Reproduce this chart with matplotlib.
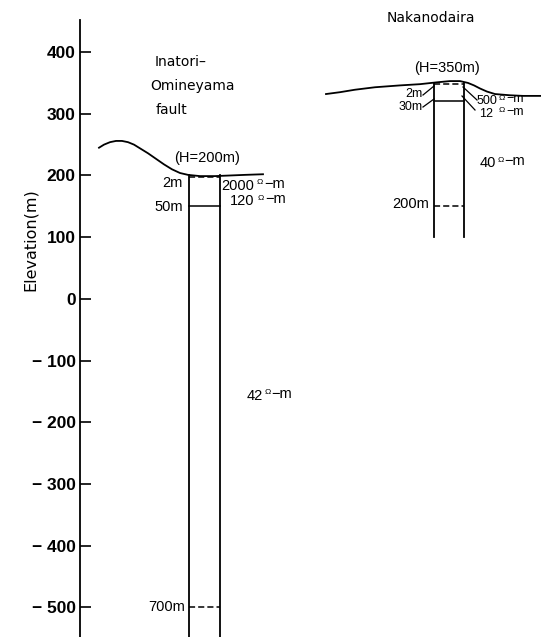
import matplotlib
matplotlib.use("Agg")
import matplotlib.pyplot as plt
from matplotlib.transforms import Affine2D

# --- data ---
yticks = [400, 300, 200, 100, 0, -100, -200, -300, -400, -500]
ytick_labels = ["400", "300", "200", "100", "0", "\u2212 100", "\u2212 200",
                "\u2212 300", "\u2212 400", "\u2212 500"]

# surface profiles (horizontal position in px, elevation in m)
left_surf_x = [99, 104, 110, 116, 122, 128, 134, 140, 148, 156, 164, 172, 180,
               188, 200, 215, 230, 245, 263]
left_surf_z = [245, 250, 254, 256, 256, 254, 250, 244, 236, 227, 218, 210, 204,
               201, 199, 199, 200, 201, 202]
right_surf_x = [326, 340, 355, 375, 400, 420, 437, 450, 460, 468, 474, 480,
                487, 495, 510, 523, 541]
right_surf_z = [332, 335, 339, 343, 346, 348, 351, 353, 353, 350, 346, 341,
                336, 332, 330, 329, 329]

# boreholes
left_H = 200
left_depths = [2, 50, 700]
left_styles = ["--", "-", "--"]
left_rho = ["2000", "120", "42"]
left_bottom = 760

right_H = 350
right_depths = [2, 30, 200]
right_styles = ["--", "-", "--"]
right_rho = ["500", "12", "40"]
right_bottom = 250

W, H = 541, 637
fig = plt.figure(figsize=(W / 100, H / 100), dpi=100)
ax = fig.add_axes([80 / W, 0, (W - 80) / W, (H - 20) / H])
ax.set_xlim(80, W)
ax.set_ylim(-548, 452)
for s in ["top", "right", "bottom"]:
    ax.spines[s].set_visible(False)
ax.spines["left"].set_linewidth(1.3)
ax.set_xticks([])
ax.set_yticks(yticks)
ax.set_yticklabels(ytick_labels)
ax.tick_params(axis="y", direction="in", length=8, width=1.2, pad=3)
num_font = ["Liberation Sans", "DejaVu Sans"]
for tl in ax.get_yticklabels():
    tl.set_family(num_font)
    tl.set_fontweight("bold")
    tl.set_fontsize(12.5)

# pixel transform for annotation layout
pix = Affine2D().scale(1 / W, -1 / H).translate(0, 1) + fig.transFigure
renderer = fig.canvas.get_renderer()

fig.text(30, 240, "Elevation(m)", transform=pix, rotation=90, ha="center",
         va="center", fontsize=11.5, family="DejaVu Sans")

lc = "black"
# left site
ax.plot(left_surf_x, left_surf_z, color=lc, lw=1.3)
for x in (189, 220):
    ax.plot([x, x], [left_H, left_H - left_bottom], color=lc, lw=1.3)
for d, ls in zip(left_depths, left_styles):
    ax.plot([189, 220], [left_H - d, left_H - d], color=lc, lw=1.1,
            ls=(0, (4, 2)) if ls == "--" else "-")

# right site
ax.plot(right_surf_x, right_surf_z, color=lc, lw=1.3)
for x in (434, 464):
    ax.plot([x, x], [right_H, right_H - right_bottom], color=lc, lw=1.3)
for d, ls in zip(right_depths, right_styles):
    ax.plot([434, 464], [right_H - d, right_H - d], color=lc, lw=1.1,
            ls=(0, (4, 2)) if ls == "--" else "-")

# leader lines (right site)
for (x0, y0, x1, y1) in [(423, 95, 434, 86), (423, 107, 434, 99),
                         (463, 87, 477, 100), (462, 96, 475, 110)]:
    fig.add_artist(plt.Line2D([x0, x1], [y0, y1], transform=pix, color=lc,
                              lw=0.9))

txt_font = ["DejaVu Sans"]


def t(x, y, s, size=10, ha="left", family=txt_font, weight="normal"):
    return fig.text(x, y, s, transform=pix, ha=ha, va="center", fontsize=size,
                    family=family, fontweight=weight)


def right_edge(txt):
    bb = txt.get_window_extent(renderer)
    return bb.x1


def res_label(x, y, val, gap=2, size=10.5):
    a = t(x, y, val, size=size, family=num_font)
    xa = right_edge(a) + gap
    b = t(xa, y - 3, "\u03a9", size=6, family=num_font)
    xb = right_edge(b) + 1
    t(xb, y - 2, "\u2212m", size=size, family=num_font)


t(155, 62, "Inatori\u2013", size=10)
t(150, 86, "Omineyama", size=10)
t(156, 110, "fault", size=10)
t(207, 158, "(H=" + str(left_H) + "m)", size=10.5, ha="center", family=num_font)
t(183, 183, f"{left_depths[0]}m", size=10.5, ha="right", family=num_font)
t(183, 207, f"{left_depths[1]}m", size=10.5, ha="right", family=num_font)
t(185, 607, f"{left_depths[2]}m", size=10.5, ha="right", family=num_font)
res_label(221, 186, left_rho[0], gap=3)
res_label(230, 201, left_rho[1], gap=3)
res_label(247, 396, left_rho[2], gap=1)

t(431, 18, "Nakanodaira", size=10, ha="center")
t(447, 68, "(H=" + str(right_H) + "m)", size=10.5, ha="center", family=num_font)
t(423, 94, f"{right_depths[0]}m", size=9, ha="right", family=num_font)
t(423, 107, f"{right_depths[1]}m", size=9, ha="right", family=num_font)
t(429, 204, f"{right_depths[2]}m", size=10.5, ha="right", family=num_font)
res_label(477, 101, right_rho[0], gap=1, size=9)
res_label(479, 114, right_rho[1], gap=6, size=9)
res_label(480, 163, right_rho[2], gap=1)

fig.savefig("out.png", dpi=100)
